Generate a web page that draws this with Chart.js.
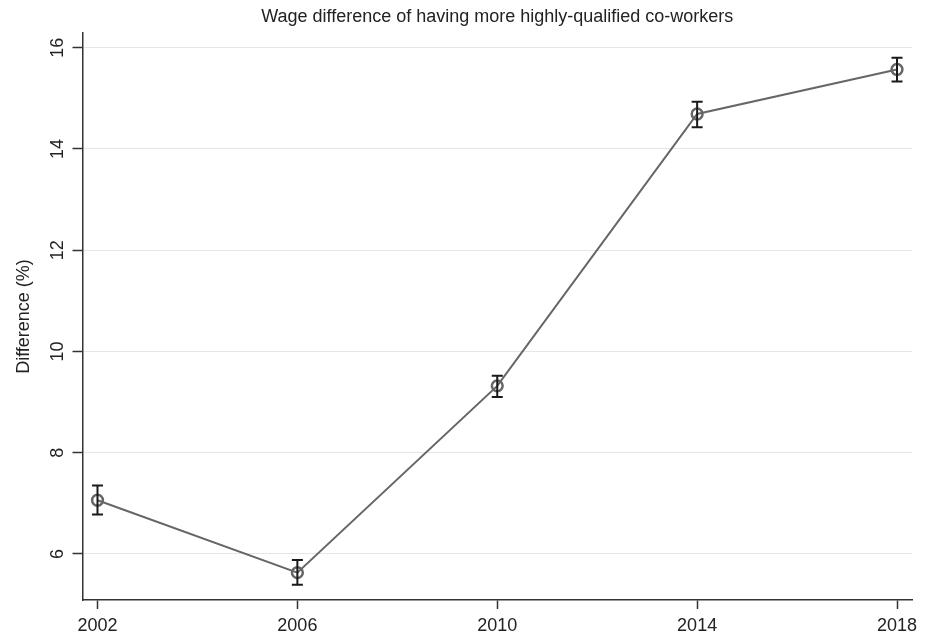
<!DOCTYPE html>
<html>
<head>
<meta charset="utf-8">
<script src="https://cdn.jsdelivr.net/npm/chart.js@4.4.1/dist/chart.umd.min.js"></script>
<style>
  html, body { margin: 0; padding: 0; background: #fff; }
  #wrap { width: 927px; height: 634px; position: relative; }
  canvas { display: block; }
</style>
</head>
<body>
<div id="wrap"><canvas id="c" width="927" height="634"></canvas></div>
<script>
const years = [2002, 2006, 2010, 2014, 2018];
const diff  = [7.06, 5.63, 9.32, 14.69, 15.57];
const lower = [6.78, 5.39, 9.10, 14.43, 15.33];
const upper = [7.35, 5.88, 9.52, 14.93, 15.80];
const xTicks = [2002, 2006, 2010, 2014, 2018];
const yTicks = [6, 8, 10, 12, 14, 16];
const titleText = 'Wage difference of having more highly-qualified co-workers';
const yTitleText = 'Difference (%)';

const FONT = '"Liberation Sans", Arial, Helvetica, sans-serif';
const TEXT = '#222';
const AXIS = '#333';

const errorBars = {
  id: 'errorBars',
  afterDatasetsDraw(chart) {
    const xs = chart.scales.x, ys = chart.scales.y, ctx = chart.ctx;
    ctx.save();
    ctx.strokeStyle = '#1a1a1a';
    ctx.lineWidth = 2;
    const cap = 5.5;
    for (let i = 0; i < years.length; i++) {
      const x = xs.getPixelForValue(years[i]);
      const yl = ys.getPixelForValue(lower[i]);
      const yu = ys.getPixelForValue(upper[i]);
      ctx.beginPath();
      ctx.moveTo(x, yl); ctx.lineTo(x, yu);
      ctx.moveTo(x - cap, yl); ctx.lineTo(x + cap, yl);
      ctx.moveTo(x - cap, yu); ctx.lineTo(x + cap, yu);
      ctx.stroke();
    }
    ctx.restore();
  }
};

const rotatedText = {
  id: 'rotatedText',
  afterDraw(chart) {
    const ys = chart.scales.y, ctx = chart.ctx;
    ctx.save();
    ctx.fillStyle = TEXT;
    ctx.font = '18px ' + FONT;
    ctx.textAlign = 'center';
    ctx.textBaseline = 'alphabetic';
    yTicks.forEach(v => {
      const y = ys.getPixelForValue(v);
      ctx.save();
      ctx.translate(63.3, y);
      ctx.rotate(-Math.PI / 2);
      ctx.fillText(String(v), 0, 0);
      ctx.restore();
    });
    const cy = (chart.chartArea.top + chart.chartArea.bottom) / 2;
    ctx.save();
    ctx.translate(29.3, cy);
    ctx.rotate(-Math.PI / 2);
    ctx.fillText(yTitleText, 0, 0);
    ctx.restore();
    ctx.restore();
  }
};

new Chart(document.getElementById('c'), {
  type: 'line',
  data: {
    datasets: [{
      data: years.map((y, i) => ({ x: y, y: diff[i] })),
      borderColor: '#666666',
      borderWidth: 2,
      pointRadius: 5.4,
      pointBorderWidth: 2.5,
      pointBorderColor: '#666666',
      pointBackgroundColor: 'rgba(0,0,0,0)',
      tension: 0,
      fill: false
    }]
  },
  options: {
    responsive: false,
    animation: false,
    devicePixelRatio: 1,
    layout: { padding: { left: 0, right: 15, top: 0, bottom: 0 } },
    plugins: {
      legend: { display: false },
      tooltip: { enabled: false },
      title: {
        display: true,
        text: titleText,
        fullSize: false,
        color: TEXT,
        font: { family: FONT, size: 18, weight: 'normal' },
        padding: { top: 6, bottom: 5.4 }
      }
    },
    scales: {
      x: {
        type: 'linear',
        min: 2001.7,
        max: 2018.3,
        afterBuildTicks: s => { s.ticks = xTicks.map(v => ({ value: v })); },
        afterFit: s => { s.height = 34; },
        ticks: {
          callback: v => String(v),
          color: TEXT,
          font: { family: FONT, size: 18 },
          padding: 6,
          maxRotation: 0,
          autoSkip: false
        },
        grid: {
          drawOnChartArea: false,
          drawTicks: true,
          tickLength: 9,
          tickColor: AXIS,
          tickWidth: 1.5
        },
        border: { display: true, color: AXIS, width: 1.5 }
      },
      y: {
        type: 'linear',
        min: 5.09,
        max: 16.29,
        afterBuildTicks: s => { s.ticks = yTicks.map(v => ({ value: v })); },
        afterFit: s => { s.width = 82.5; },
        ticks: { display: false },
        grid: {
          color: '#e6e6e6',
          lineWidth: 1,
          drawTicks: true,
          tickLength: 10,
          tickColor: AXIS,
          tickWidth: 1.5
        },
        border: { display: true, color: AXIS, width: 1.5 }
      }
    }
  },
  plugins: [errorBars, rotatedText]
});
</script>
</body>
</html>
